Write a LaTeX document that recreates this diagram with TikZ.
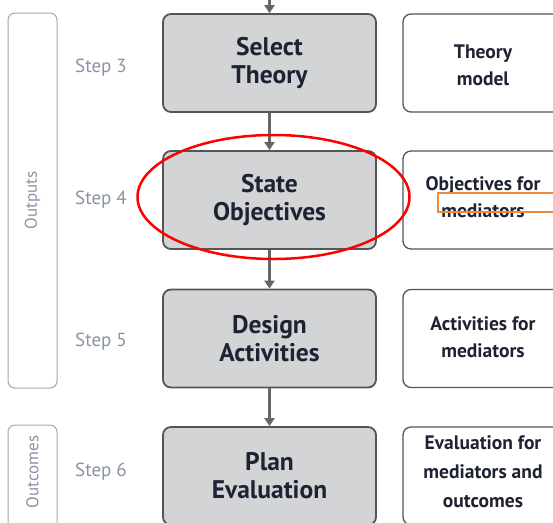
\documentclass[tikz,border=0pt]{standalone}
\usepackage{fontspec}
\setmainfont{PT Sans}
\usetikzlibrary{arrows.meta}
\definecolor{boxgray}{HTML}{D3D4D6}
\definecolor{edgegray}{HTML}{555555}
\definecolor{steptext}{HTML}{8A93A3}
\definecolor{darktext}{HTML}{1E2233}
\definecolor{markorange}{HTML}{EE8A3C}
\tikzset{
  stepbox/.style={draw=edgegray, line width=1.8pt, fill=boxgray, rounded corners=8pt, minimum width=213pt, minimum height=98pt, align=center, text=darktext, font=\fontsize{25.5}{28}\selectfont\bfseries, inner sep=0pt},
  outbox/.style={draw=edgegray, line width=1.3pt, fill=white, rounded corners=8pt, minimum width=160pt, minimum height=98pt, inner sep=0pt},
  outtext/.style={align=center, text=darktext, font=\fontsize{19.5}{27}\selectfont\bfseries, inner sep=0pt},
  sidebox/.style={draw=gray!70, line width=1pt, rounded corners=7pt, minimum width=49pt, inner sep=0pt},
  steplabel/.style={text=steptext, font=\fontsize{19}{20}\selectfont},
  sidelabel/.style={text=steptext, font=\fontsize{17}{20}\selectfont, rotate=90},
  flow/.style={draw=gray!80!black, line width=2.5pt, -{Triangle[length=8pt,width=10pt]}},
}
\begin{document}
\begin{tikzpicture}[x=1pt,y=-1pt]
\useasboundingbox (0,0) rectangle (553,522);
% left brackets
\node[sidebox, minimum height=375pt] (outputs) at (32.5,200.5) {};
\node[sidelabel] (outputslbl) at (32.5,200.5) {Outputs};
\node[sidebox, minimum height=120pt] (outcomes) at (32.5,485) {};
\node[sidelabel] (outcomeslbl) at (32.5,472) {Outcomes};
% step labels
\node[steplabel] (s3) at (101,68) {Step 3};
\node[steplabel] (s4) at (101,200) {Step 4};
\node[steplabel] (s5) at (101,342) {Step 5};
\node[steplabel] (s6) at (101,472) {Step 6};
% main boxes
\node[stepbox] (theory) at (269.5,63) {Select\\Theory};
\node[stepbox] (objectives) at (269.5,200) {State\\Objectives};
\node[stepbox] (activities) at (269.5,338.5) {Design\\Activities};
\node[stepbox] (evaluation) at (269.5,476) {Plan\\Evaluation};
% output boxes
\node[outbox] (tmodel) at (483,63) {};
\node[outbox] (omed) at (483,200) {};
\node[outbox] (amed) at (483,338.5) {};
\node[outbox] (emed) at (483,476) {};
\node[outtext] (tmodeltxt) at (483,65.5) {Theory\\model};
\node[outtext] (omedtxt) at (483,197) {Objectives for\\mediators};
\node[outtext] (amedtxt) at (483,337) {Activities for\\mediators};
\node[outtext, font=\fontsize{19.5}{29}\selectfont\bfseries] (emedtxt) at (483,472) {Evaluation for\\mediators and\\outcomes};
% arrows
\coordinate (top) at (269.5,-2);
\draw[flow] (top) -- (theory.north);
\draw[flow] (theory.south) -- (objectives.north);
\draw[flow] (objectives.south) -- (activities.north);
\draw[flow] (activities.south) -- (evaluation.north);
% annotations
\draw[markorange, line width=1.5pt] (438,193) rectangle (560,212);
\draw[red, line width=2.5pt] (273.5,197) ellipse [x radius=136pt, y radius=62pt];
\end{tikzpicture}
\end{document}
